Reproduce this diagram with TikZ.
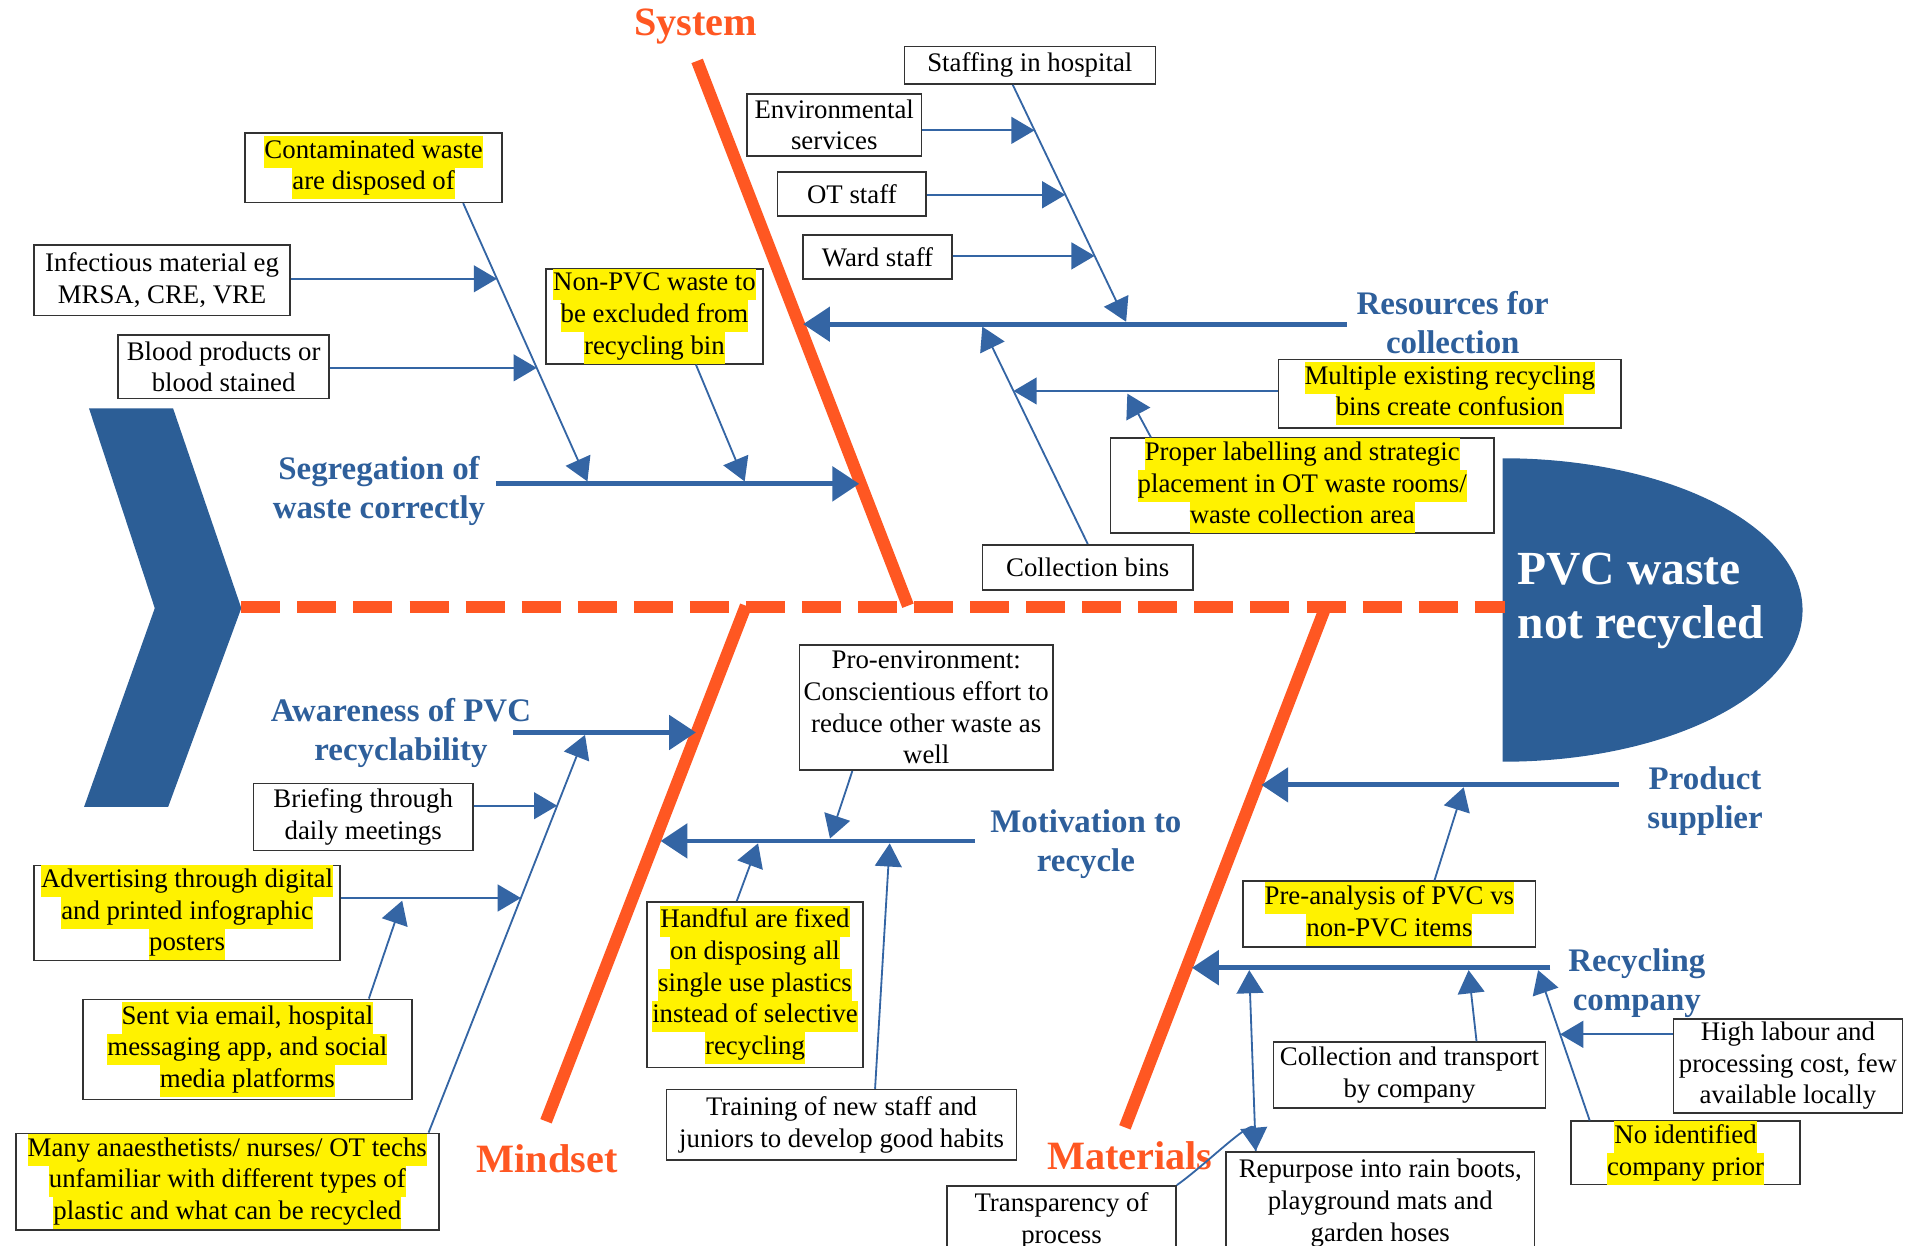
\documentclass[tikz,border=0pt]{standalone}
\usepackage{fontspec}
\setmainfont{Liberation Serif}
\usetikzlibrary{arrows.meta,calc}
\definecolor{fishblue}{RGB}{44,94,150}
\definecolor{arrowblue}{RGB}{52,101,164}
\definecolor{labelblue}{RGB}{46,95,155}
\definecolor{fishorange}{RGB}{255,87,34}
\setlength{\fboxsep}{0pt}
\newcommand{\hlt}[1]{\colorbox{yellow}{\strut #1}}
\begin{document}
\begin{tikzpicture}[x=1pt,y=-1pt,
	cause/.style={draw=black!80, line width=1.3pt, fill=white, align=center, inner sep=0pt, font=\fontsize{22}{26}\selectfont},
	branch/.style={text=labelblue, align=center, font=\fontsize{27}{32}\selectfont\bfseries},
	bonelabel/.style={text=fishorange, font=\fontsize{33}{38}\selectfont\bfseries},
	bone/.style={draw=fishorange, line width=10pt},
	mainarrow/.style={draw=arrowblue, line width=4pt, -{Triangle[length=22pt,width=28pt]}},
	subarrow/.style={draw=arrowblue, line width=1.5pt, -{Triangle[length=19pt,width=22pt]}}]
	\useasboundingbox (0,0) rectangle (1568,1022);
	\clip (0,0) rectangle (1568,1022);
	% fish tail and head
	\fill[fishblue] (73,335) -- (142,335) -- (198,499) -- (138,662) -- (69,662) -- (127,499) -- cycle;
	\fill[fishblue] (1233,376) arc[start angle=90, end angle=-90, x radius=246pt, y radius=124.5pt] -- cycle;
	\node[anchor=west, inner sep=0pt, align=left, text=white, font=\fontsize{39}{45}\selectfont\bfseries] (effect) at (1245,493) {PVC waste\\not recycled};
	% spine and bones
	\draw[fishorange, line width=10pt, dash pattern=on 32pt off 14pt] (198,498) -- (1235,498);
	\coordinate (sysTop) at (572,50);
	\coordinate (sysBot) at (745,497);
	\coordinate (minTop) at (612,497);
	\coordinate (minBot) at (448,920);
	\coordinate (matTop) at (1088,497);
	\coordinate (matBot) at (923,925);
	\draw[bone] (sysTop) -- (sysBot);
	\draw[bone] (minTop) -- (minBot);
	\draw[bone] (matTop) -- (matBot);
	\node[bonelabel] (system) at (571,22) {System};
	\node[bonelabel] (mindset) at (449,951) {Mindset};
	\node[bonelabel] (materials) at (927,948) {Materials};
	% branch labels
	\node[branch] (seg) at (311,403) {Segregation of\\waste correctly};
	\node[branch] (res) at (1192,265) {Resources for\\collection};
	\node[branch] (aware) at (329,601) {Awareness of PVC\\recyclability};
	\node[branch] (motiv) at (891,693) {Motivation to\\recycle};
	\node[branch] (prod) at (1399,657) {Product\\supplier};
	\node[branch] (recyc) at (1343,807) {Recycling\\company};
	% causes
	\node[cause, minimum width=206, minimum height=31] (staff) at (845,53.5) {Staffing in hospital};
	\node[cause, minimum width=143, minimum height=51] (env) at (684.5,102.5) {Environmental\\services};
	\node[cause, minimum width=122, minimum height=36] (ot) at (699,159) {OT staff};
	\node[cause, minimum width=122, minimum height=36] (ward) at (720,211) {Ward staff};
	\node[cause, minimum width=211, minimum height=57] (contam) at (306.5,137.5) {\hlt{Contaminated waste}\\\hlt{are disposed of}};
	\node[cause, minimum width=210, minimum height=58] (infect) at (133,230) {Infectious material eg\\MRSA, CRE, VRE};
	\node[cause, minimum width=173, minimum height=52] (blood) at (183.5,301) {Blood products or\\blood stained};
	\node[cause, minimum width=178, minimum height=77] (nonpvc) at (537,259.5) {\hlt{Non-PVC waste to}\\\hlt{be excluded from}\\\hlt{recycling bin}};
	\node[cause, minimum width=281, minimum height=56] (multi) at (1189.5,323) {\hlt{Multiple existing recycling}\\\hlt{bins create confusion}};
	\node[cause, minimum width=315, minimum height=77] (labelling) at (1068.5,398.5) {\hlt{Proper labelling and strategic}\\\hlt{placement in OT waste rooms/}\\\hlt{waste collection area}};
	\node[cause, minimum width=173, minimum height=37] (bins) at (892.5,465.5) {Collection bins};
	\node[cause, minimum width=208, minimum height=103] (proenv) at (760,580.5) {Pro-environment:\\Conscientious effort to\\reduce other waste as\\well};
	\node[cause, minimum width=180, minimum height=55] (brief) at (298,670.5) {Briefing through\\daily meetings};
	\node[cause, minimum width=251, minimum height=78] (advert) at (153.5,749) {\hlt{Advertising through digital}\\\hlt{and printed infographic}\\\hlt{posters}};
	\node[cause, minimum width=270, minimum height=82] (sent) at (203,861) {\hlt{Sent via email, hospital}\\\hlt{messaging app, and social}\\\hlt{media platforms}};
	\node[cause, minimum width=347, minimum height=79] (many) at (186.5,969.5) {\hlt{Many anaesthetists/ nurses/ OT techs}\\\hlt{unfamiliar with different types of}\\\hlt{plastic and what can be recycled}};
	\node[cause, minimum width=177, minimum height=136] (handful) at (619.5,808) {\hlt{Handful are fixed}\\\hlt{on disposing all}\\\hlt{single use plastics}\\\hlt{instead of selective}\\\hlt{recycling}};
	\node[cause, minimum width=287, minimum height=58] (train) at (690.5,923) {Training of new staff and\\juniors to develop good habits};
	\node[cause, minimum width=240, minimum height=54] (pre) at (1140,750) {\hlt{Pre-analysis of PVC vs}\\\hlt{non-PVC items}};
	\node[cause, minimum width=223, minimum height=54] (coltr) at (1156.5,882) {Collection and transport\\by company};
	\node[cause, minimum width=188, minimum height=77] (high) at (1467,874.5) {High labour and\\processing cost, few\\available locally};
	\node[cause, minimum width=188, minimum height=52] (noid) at (1383,946) {\hlt{No identified}\\\hlt{company prior}};
	\node[cause, minimum width=188, minimum height=57] (transp) at (871,1001.5) {Transparency of\\process};
	\node[cause, minimum width=253, minimum height=84] (repur) at (1132.5,987) {Repurpose into rain boots,\\playground mats and\\garden hoses};
	% segregation of waste
	\coordinate (segS) at (407,397);
	\coordinate (segT) at (705,397);
	\draw[mainarrow] (segS) -- (segT);
	\coordinate (contamT) at (482,395);
	\draw[subarrow] ([xshift=73.5pt]contam.south) -- (contamT);
	\coordinate (infectT) at ($([xshift=73.5pt]contam.south)!0.272!(contamT)$);
	\draw[subarrow] (infect.east |- infectT) -- (infectT);
	\coordinate (bloodT) at ($([xshift=73.5pt]contam.south)!0.592!(contamT)$);
	\draw[subarrow] (blood.east |- bloodT) -- (bloodT);
	\draw[subarrow] ([xshift=34pt]nonpvc.south) -- (611,395);
	% resources for collection
	\coordinate (resS) at (1105,266);
	\coordinate (resT) at (659,266);
	\draw[mainarrow] (resS) -- (resT);
	\coordinate (staffT) at (924,264);
	\draw[subarrow] ([xshift=-14pt]staff.south) -- (staffT);
	\coordinate (envT) at ($([xshift=-14pt]staff.south)!0.192!(staffT)$);
	\draw[subarrow] (env.east |- envT) -- (envT);
	\coordinate (otT) at ($([xshift=-14pt]staff.south)!0.464!(staffT)$);
	\draw[subarrow] (ot.east |- otT) -- (otT);
	\coordinate (wardT) at ($([xshift=-14pt]staff.south)!0.722!(staffT)$);
	\draw[subarrow] (ward.east |- wardT) -- (wardT);
	\coordinate (binsT) at (806,268);
	\draw[subarrow] (bins.north) -- (binsT);
	\coordinate (multiT) at ($(bins.north)!0.704!(binsT)$);
	\draw[subarrow] (multi.west |- multiT) -- (multiT);
	\draw[subarrow] ([xshift=34pt]labelling.north west) -- (925,323);
	% awareness
	\coordinate (awS) at (421,601);
	\coordinate (awT) at (571,601);
	\draw[mainarrow] (awS) -- (awT);
	\coordinate (manyT) at (480,603);
	\draw[subarrow] ([xshift=-9pt]many.north east) -- (manyT);
	\coordinate (briefT) at ($([xshift=-9pt]many.north east)!0.822!(manyT)$);
	\draw[subarrow] (brief.east |- briefT) -- (briefT);
	\coordinate (advertT) at ($([xshift=-9pt]many.north east)!0.590!(manyT)$);
	\draw[subarrow] (advert.east |- advertT) -- (advertT);
	\draw[subarrow] ([xshift=-36pt]sent.north east) -- (330,739);
	% motivation
	\coordinate (motS) at (800,690);
	\coordinate (motT) at (542,690);
	\draw[mainarrow] (motS) -- (motT);
	\draw[subarrow] ([xshift=44pt]proenv.south west) -- (681,688);
	\draw[subarrow] ([xshift=-15pt]handful.north) -- (622,692);
	\draw[subarrow] ([xshift=27.5pt]train.north) -- (730,692);
	% product supplier
	\coordinate (prodS) at (1328,644);
	\coordinate (prodT) at (1035,644);
	\draw[mainarrow] (prodS) -- (prodT);
	\draw[subarrow] ([xshift=37pt]pre.north) -- (1201,646);
	% recycling company
	\coordinate (recS) at (1272,794);
	\coordinate (recT) at (978,794);
	\draw[mainarrow] (recS) -- (recT);
	\draw[subarrow] ([xshift=25pt]repur.north west) -- (1025,796);
	\draw[subarrow] (transp.north east) to[out=35,in=95] ([xshift=25pt]repur.north west);
	\draw[subarrow] ([xshift=55pt]coltr.north) -- (1205,796);
	\coordinate (noidT) at (1262,796);
	\draw[subarrow] ([xshift=16pt]noid.north west) -- (noidT);
	\coordinate (highT) at ($([xshift=16pt]noid.north west)!0.573!(noidT)$);
	\draw[subarrow] (high.west |- highT) -- (highT);
\end{tikzpicture}
\end{document}
